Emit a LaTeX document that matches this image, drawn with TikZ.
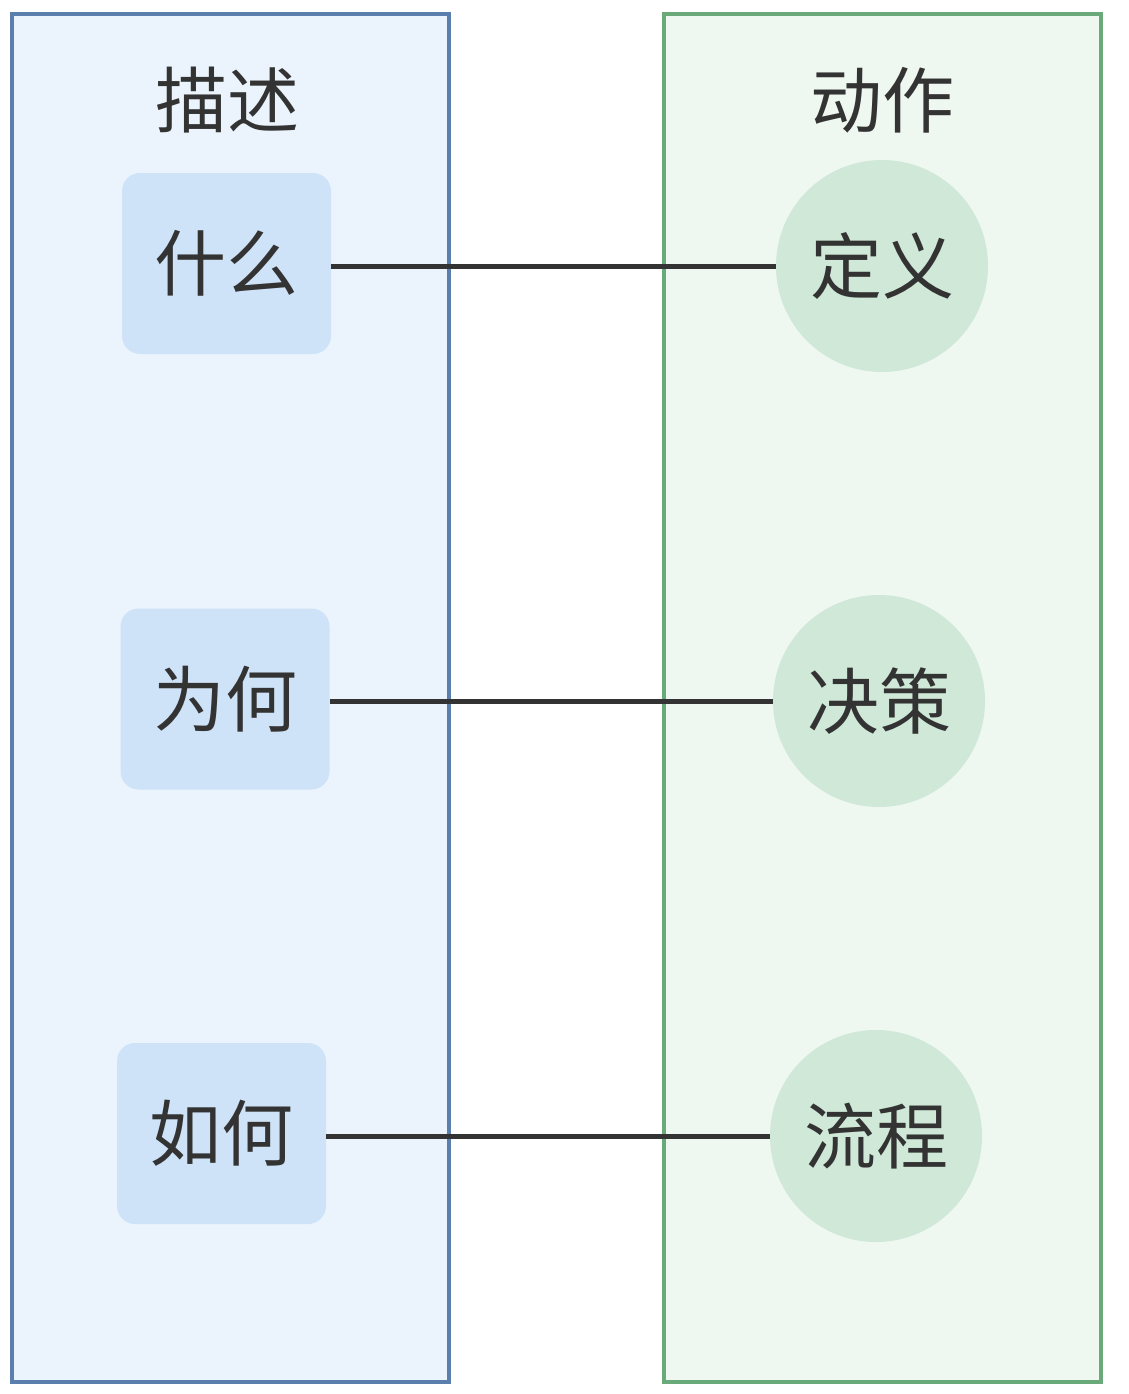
\documentclass[tikz,border=0pt]{standalone}
\usepackage{fontspec}
\setmainfont{Noto Sans CJK SC}
\definecolor{lb}{HTML}{5B7FAD}\definecolor{lbf}{HTML}{EBF4FC}
\definecolor{gb}{HTML}{6AAA7A}\definecolor{gbf}{HTML}{EEF7F0}
\definecolor{bx}{HTML}{CFE3F8}\definecolor{cc}{HTML}{CFE8D8}
\definecolor{tx}{HTML}{333333}
\begin{document}
\begin{tikzpicture}[x=1pt,y=-1pt,
 txt/.style={font=\fontsize{72}{80}\selectfont,text=tx},
 bxs/.style={txt,fill=bx,rounded corners=18pt,minimum width=209pt,minimum height=181pt,inner sep=0},
 cir/.style={txt,fill=cc,circle,minimum size=212pt,inner sep=0},
 ln/.style={line width=5pt,draw=tx}]
\useasboundingbox (0,0) rectangle (1128,1394);
\draw[lb,fill=lbf,line width=4pt] (12,14) rectangle (449,1382);
\draw[gb,fill=gbf,line width=4pt] (664,14) rectangle (1101,1382);
\node[txt] (t1) at (227,100) {描述};
\node[txt] (t2) at (882,100) {动作};
\node[bxs] (a1) at (226.5,263.5) {什么};
\node[bxs] (a2) at (225,699) {为何};
\node[bxs] (a3) at (221.5,1133.5) {如何};
\node[cir] (b1) at (882,266) {定义};
\node[cir] (b2) at (879,701) {决策};
\node[cir] (b3) at (876,1136) {流程};
\draw[ln] (a1.east|-b1) -- (b1.west);
\draw[ln] (a2.east|-b2) -- (b2.west);
\draw[ln] (a3.east|-b3) -- (b3.west);
\end{tikzpicture}
\end{document}
